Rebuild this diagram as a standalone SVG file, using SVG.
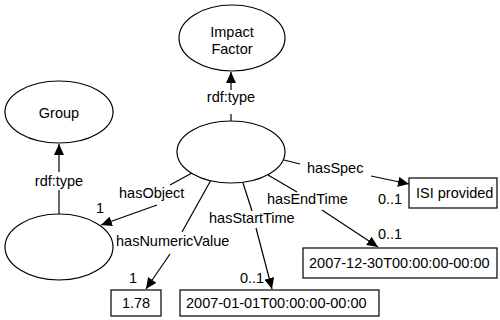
<svg xmlns="http://www.w3.org/2000/svg" width="500" height="320" viewBox="0 0 500 320">
<defs>
<style>
text{font-family:"Liberation Sans",Arial,Helvetica,sans-serif;font-size:14.5px;fill:#000}
.n{fill:#fff;stroke:#000;stroke-width:1.2}
.c{fill:none;stroke:#000;stroke-width:1.2}
.m{text-anchor:middle}
</style>
<marker id="ah" markerUnits="userSpaceOnUse" markerWidth="12" markerHeight="10" refX="11" refY="5" orient="auto">
<path d="M0,0 L11,5 L0,10 Z" fill="#000"/>
</marker>
</defs>
<rect width="500" height="320" fill="#fff"/>
<g id="connectors">
<g id="e-rdftype1">
<line class="c" x1="231" y1="121" x2="231" y2="114"/>
<text class="m" x="231" y="102">rdf:type</text>
<line class="c" x1="231" y1="90" x2="231" y2="72" marker-end="url(#ah)"/>
</g>
<g id="e-rdftype2">
<line class="c" x1="59" y1="214" x2="59" y2="190"/>
<text class="m" x="59" y="186">rdf:type</text>
<line class="c" x1="59" y1="172" x2="59" y2="144" marker-end="url(#ah)"/>
</g>
<g id="e-hasObject">
<line class="c" x1="192" y1="173" x2="170" y2="185"/>
<text x="119" y="198">hasObject</text>
<line class="c" x1="157" y1="205" x2="101" y2="225" marker-end="url(#ah)"/>
<text class="m" x="100" y="213">1</text>
</g>
<g id="e-hasNumericValue">
<line class="c" x1="211" y1="180" x2="182" y2="232"/>
<text x="116" y="246">hasNumericValue</text>
<line class="c" x1="170" y1="254" x2="146" y2="289" marker-end="url(#ah)"/>
<text class="m" x="133" y="283">1</text>
</g>
<g id="e-hasStartTime">
<line class="c" x1="243" y1="183" x2="252" y2="211"/>
<text x="209" y="223">hasStartTime</text>
<line class="c" x1="256" y1="228" x2="272" y2="289" marker-end="url(#ah)"/>
<text x="240" y="283">0..1</text>
</g>
<g id="e-hasEndTime">
<line class="c" x1="268" y1="175" x2="297" y2="192"/>
<text x="267" y="204">hasEndTime</text>
<line class="c" x1="322" y1="210" x2="378" y2="247" marker-end="url(#ah)"/>
<text x="378" y="239">0..1</text>
</g>
<g id="e-hasSpec">
<line class="c" x1="284" y1="160" x2="300" y2="164"/>
<text x="307" y="173">hasSpec</text>
<line class="c" x1="371" y1="176" x2="409" y2="184" marker-end="url(#ah)"/>
<text x="378" y="204">0..1</text>
</g>
</g>
<g id="impact-factor">
<ellipse class="n" cx="232" cy="38" rx="53" ry="33"/>
<text class="m" x="232" y="37">Impact</text>
<text class="m" x="232" y="54">Factor</text>
</g>
<g id="group">
<ellipse class="n" cx="59" cy="112" rx="54" ry="31"/>
<text class="m" x="59" y="118">Group</text>
</g>
<g id="center">
<ellipse class="n" cx="231" cy="152" rx="54" ry="31"/>
</g>
<g id="object">
<ellipse class="n" cx="59" cy="247" rx="54" ry="33"/>
</g>
<g id="value">
<rect class="n" x="111" y="290" width="50" height="26"/>
<text class="m" x="136" y="308">1.78</text>
</g>
<g id="start-time">
<rect class="n" x="180" y="290" width="199" height="26"/>
<text x="186" y="308">2007-01-01T00:00:00-00:00</text>
</g>
<g id="spec">
<rect class="n" x="409" y="178" width="88" height="30"/>
<text x="416" y="198">ISI provided</text>
</g>
<g id="end-time">
<rect class="n" x="303" y="248" width="194" height="30"/>
<text x="309" y="268">2007-12-30T00:00:00-00:00</text>
</g>
</svg>
